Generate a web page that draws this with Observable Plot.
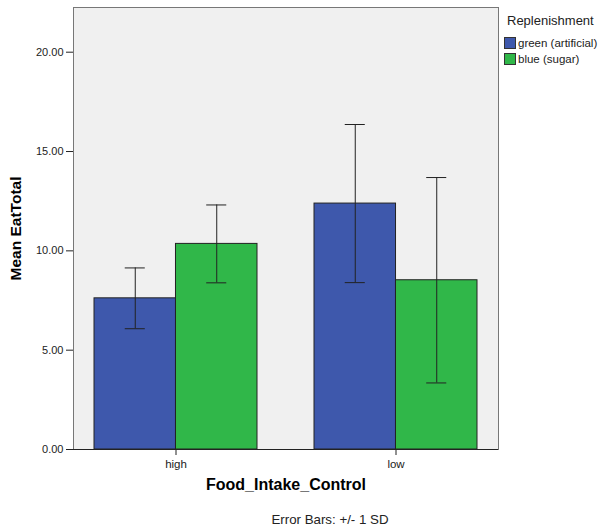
<!DOCTYPE html>
<html>
<head>
<meta charset="utf-8">
<script src="https://cdn.jsdelivr.net/npm/d3@7"></script>
<script src="https://cdn.jsdelivr.net/npm/@observablehq/plot@0.6"></script>
<style>
  html, body { margin: 0; padding: 0; background: #fff; }
  #chart { position: relative; width: 602px; height: 531px; font-family: "Liberation Sans", Arial, sans-serif; }
  #legend { position: absolute; left: 504px; top: 13px; color: #222; }
  #legend .title { font-size: 13px; line-height: 16px; margin: 0 0 6px 3px; }
  #legend .item { display: flex; align-items: center; font-size: 11.5px; height: 16px; }
  #legend .sw { width: 10px; height: 10px; border: 1px solid #333; margin-right: 2px; }
</style>
</head>
<body>
<div id="chart"></div>
<script>
// Mean EatTotal by food-intake control group and replenishment type
const groups = ["high", "low"];
const seriesNames = ["green (artificial)", "blue (sugar)"];
const seriesColors = ["#3e58ac", "#30b749"];
const meanGreen = [7.61, 12.38];
const meanBlue = [10.35, 8.52];
const sdGreen = [1.53, 3.98];
const sdBlue = [1.96, 5.17];
const yTicks = [0, 5, 10, 15, 20];

const legendTitle = "Replenishment";
const xTitle = "Food_Intake_Control";
const yTitle = "Mean EatTotal";
const note = "Error Bars: +/- 1 SD";

const rows = [];
groups.forEach((g, j) => {
  rows.push({group: g, series: seriesNames[0], mean: meanGreen[j], sd: sdGreen[j]});
  rows.push({group: g, series: seriesNames[1], mean: meanBlue[j], sd: sdBlue[j]});
});
const first = rows.filter(d => d.series === seriesNames[0]);
const second = rows.filter(d => d.series === seriesNames[1]);

const W = 602, H = 531;
const mL = 73, mR = 104, mT = 7, mB = 82;
const padIn = 0.26, padOut = 0.095;
// width of one group band, computed the same way as Plot's band scale
const bw = d3.scaleBand(groups, [mL, W - mR]).paddingInner(padIn).paddingOuter(padOut).bandwidth();
const capW = 20;
const capInset = (bw - capW) / 2;

const errMarks = (data, dx) => [
  Plot.ruleX(data, {x: "group", y1: d => d.mean - d.sd, y2: d => d.mean + d.sd, dx, stroke: "#222", strokeWidth: 1}),
  Plot.tickY(data, {x: "group", y: d => d.mean + d.sd, dx, insetLeft: capInset, insetRight: capInset, stroke: "#222", strokeWidth: 1}),
  Plot.tickY(data, {x: "group", y: d => d.mean - d.sd, dx, insetLeft: capInset, insetRight: capInset, stroke: "#222", strokeWidth: 1})
];

const chart = Plot.plot({
  width: W,
  height: H,
  marginLeft: mL,
  marginRight: mR,
  marginTop: mT,
  marginBottom: mB,
  style: {fontFamily: "Liberation Sans, Arial, sans-serif", fontSize: "11px", color: "#222", background: "transparent"},
  x: {domain: groups, paddingInner: padIn, paddingOuter: padOut, label: null},
  y: {domain: [0, 22.25], label: null},
  marks: [
    Plot.frame({fill: "#f0f0f0", stroke: "#777"}),
    Plot.barY(first, {x: "group", y: "mean", fill: seriesColors[0], insetRight: bw / 2, stroke: "#222", strokeWidth: 1}),
    Plot.barY(second, {x: "group", y: "mean", fill: seriesColors[1], insetLeft: bw / 2, stroke: "#222", strokeWidth: 1}),
    ...errMarks(first, -bw / 4),
    ...errMarks(second, bw / 4),
    Plot.ruleY([0], {stroke: "#222"}),
    Plot.axisY({ticks: yTicks, tickFormat: d3.format(".2f"), tickSize: 7, tickPadding: 3, label: null, line: true, stroke: "#222"}),
    Plot.axisX({tickSize: 6, tickPadding: 4, fontSize: 11.5, label: null}),
    Plot.text([yTitle], {frameAnchor: "left", textAnchor: "middle", rotate: -90, dx: -57, fontWeight: "bold", fontSize: 15.5, fill: "#000"}),
    Plot.text([xTitle], {frameAnchor: "bottom", dy: 40, fontWeight: "bold", fontSize: 16, fill: "#000"}),
    Plot.text([note], {frameAnchor: "bottom", dy: 74, dx: 44, fontSize: 13.3, fill: "#222"})
  ]
});

const root = document.getElementById("chart");
root.appendChild(chart);

// legend for the replenishment series
const legend = document.createElement("div");
legend.id = "legend";
const t = document.createElement("div");
t.className = "title";
t.textContent = legendTitle;
legend.appendChild(t);
seriesNames.forEach((name, i) => {
  const item = document.createElement("div");
  item.className = "item";
  const sw = document.createElement("span");
  sw.className = "sw";
  sw.style.background = seriesColors[i];
  const lab = document.createElement("span");
  lab.textContent = name;
  item.appendChild(sw);
  item.appendChild(lab);
  legend.appendChild(item);
});
root.appendChild(legend);
</script>
</body>
</html>
